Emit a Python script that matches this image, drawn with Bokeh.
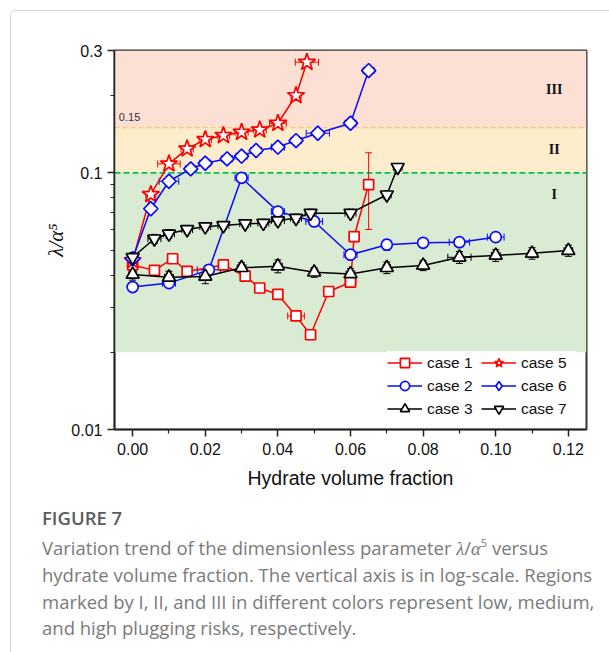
from bokeh.plotting import figure
from bokeh.models import (ColumnDataSource, Whisker, TeeHead, BoxAnnotation, Span,
                          Legend, LegendItem, FixedTicker, NumeralTickFormatter, Div, Label)
from bokeh.layouts import column
from bokeh.embed import file_html
from bokeh.resources import INLINE
import math

# ---- data: hydrate volume fraction (x) vs dimensionless lambda/alpha^5 (y) ----
case1_x = [0.0, 0.006, 0.011, 0.015, 0.025, 0.031, 0.035, 0.040, 0.045, 0.049, 0.054, 0.060, 0.061, 0.065]
case1_y = [0.0438, 0.0417, 0.0463, 0.0413, 0.0438, 0.0396, 0.0356, 0.0336, 0.0277, 0.0234, 0.0345, 0.0375, 0.0565, 0.0901]
case1_xerr = [0.001, 0.001, 0.001, 0.001, 0.0012, 0.0012, 0.001, 0.0012, 0.0023, 0.0012, 0.001, 0.0015, 0.0008, 0.0008]
case1_ylo = [0.0015, 0.0015, 0.0015, 0.0015, 0.0015, 0.0012, 0.0012, 0.0012, 0.0010, 0.0010, 0.0012, 0.0012, 0.0015, 0.0299]
case1_yhi = [0.0015, 0.0015, 0.0015, 0.0015, 0.0015, 0.0012, 0.0012, 0.0012, 0.0010, 0.0010, 0.0012, 0.0012, 0.0015, 0.0297]

case2_x = [0.0, 0.010, 0.021, 0.030, 0.040, 0.050, 0.060, 0.070, 0.080, 0.090, 0.100]
case2_y = [0.0359, 0.0372, 0.0419, 0.0957, 0.0707, 0.0647, 0.0480, 0.0525, 0.0534, 0.0537, 0.0562]
case2_xerr = [0.001, 0.0018, 0.0032, 0.0018, 0.0018, 0.0023, 0.0018, 0.001, 0.0012, 0.0028, 0.0023]
case2_yerr = [0.0012, 0.0012, 0.0015, 0.0030, 0.0025, 0.0020, 0.0015, 0.0025, 0.0018, 0.0018, 0.0018]

case3_x = [0.0, 0.010, 0.020, 0.030, 0.040, 0.050, 0.060, 0.070, 0.080, 0.090, 0.100, 0.110, 0.120]
case3_y = [0.0402, 0.0392, 0.0395, 0.0427, 0.0433, 0.0410, 0.0404, 0.0427, 0.0436, 0.0469, 0.0477, 0.0486, 0.0498]
case3_xerr = [0.001, 0.0012, 0.0015, 0.0012, 0.0012, 0.001, 0.0012, 0.001, 0.001, 0.0032, 0.0012, 0.001, 0.0012]
case3_yerr = [0.0020, 0.0022, 0.0025, 0.0020, 0.0025, 0.0018, 0.0020, 0.0022, 0.0020, 0.0025, 0.0025, 0.0025, 0.0025]

case5_x = [0.0, 0.005, 0.010, 0.015, 0.020, 0.025, 0.030, 0.035, 0.040, 0.045, 0.048]
case5_y = [0.0455, 0.0824, 0.1085, 0.1241, 0.1350, 0.1400, 0.1441, 0.1472, 0.1562, 0.2003, 0.2700]
case5_xerr = [0.001, 0.0014, 0.0031, 0.0017, 0.0017, 0.0017, 0.0018, 0.0018, 0.0023, 0.0014, 0.0032]
case5_yerr = [0.0015, 0.0025, 0.0030, 0.0035, 0.0035, 0.0035, 0.0035, 0.0040, 0.0040, 0.0050, 0.0070]

case6_x = [0.0, 0.005, 0.010, 0.016, 0.020, 0.026, 0.030, 0.034, 0.040, 0.045, 0.051, 0.060, 0.065]
case6_y = [0.0463, 0.0725, 0.0928, 0.1037, 0.1091, 0.1135, 0.1162, 0.1223, 0.1260, 0.1337, 0.1428, 0.1562, 0.2506]
case6_xerr = [0.001, 0.0012, 0.0027, 0.0015, 0.0015, 0.0015, 0.0015, 0.0015, 0.0018, 0.0014, 0.0032, 0.0015, 0.0015]
case6_yerr = [0.0015, 0.0022, 0.0028, 0.0030, 0.0030, 0.0030, 0.0030, 0.0032, 0.0032, 0.0035, 0.0035, 0.0040, 0.0060]

case7_x = [0.0, 0.006, 0.010, 0.015, 0.020, 0.025, 0.031, 0.036, 0.040, 0.045, 0.049, 0.060, 0.070, 0.073]
case7_y = [0.0469, 0.0554, 0.0579, 0.0602, 0.0618, 0.0624, 0.0634, 0.0637, 0.0652, 0.0666, 0.0697, 0.0697, 0.0822, 0.1052]
case7_xerr = [0.001, 0.0018, 0.0015, 0.0015, 0.0015, 0.0015, 0.0015, 0.0015, 0.0018, 0.0015, 0.0015, 0.0015, 0.0012, 0.0012]
case7_yerr = [0.0020, 0.0022, 0.0022, 0.0022, 0.0022, 0.0022, 0.0022, 0.0022, 0.0025, 0.0025, 0.0025, 0.0025, 0.0030, 0.0035]

# plugging-risk bands on the y axis: I (low), II (medium), III (high)
risk_bounds = [0.02, 0.1, 0.15, 0.3]
risk_labels = ["I", "II", "III"]

x_ticks = [0.00, 0.02, 0.04, 0.06, 0.08, 0.10, 0.12]
x_minor = [0.01, 0.03, 0.05, 0.07, 0.09, 0.11]
y_ticks = [0.01, 0.1, 0.3]
y_minor = [0.02, 0.03, 0.04, 0.05, 0.06, 0.07, 0.08, 0.09, 0.2]

RED, BLUE, BLACK = "#ff0000", "#0a0aff", "#000000"

# name, x, y, x error, lower/upper y error, colour, marker, size, marker angle, legend marker
series = [
    ("case 1", case1_x, case1_y, case1_xerr, case1_ylo, case1_yhi, RED, "square", 10, 0.0, None),
    ("case 2", case2_x, case2_y, case2_xerr, case2_yerr, case2_yerr, BLUE, "circle", 11, 0.0, None),
    ("case 3", case3_x, case3_y, case3_xerr, case3_yerr, case3_yerr, BLACK, "triangle", 13, 0.0, None),
    ("case 5", case5_x, case5_y, case5_xerr, case5_yerr, case5_yerr, RED, "star", 18, 0.0, None),
    ("case 6", case6_x, case6_y, case6_xerr, case6_yerr, case6_yerr, BLUE, "square", 10, math.pi / 4, "diamond"),
    ("case 7", case7_x, case7_y, case7_xerr, case7_yerr, case7_yerr, BLACK, "inverted_triangle", 13, 0.0, None),
]

p = figure(frame_width=472, frame_height=379,
           x_range=(-0.005, 0.125), y_range=(0.01, 0.3), y_axis_type="log",
           min_border_left=103, min_border_right=23, min_border_top=39, min_border_bottom=66,
           output_backend="svg", toolbar_location=None,
           background_fill_color="white", border_fill_color="white")
p.grid.visible = False
p.outline_line_color = "#333333"
p.outline_line_width = 2

# risk bands
band_colors = ["#d9ebd2", "#fdedcc", "#fde0d4"]
for lo, hi, c in zip(risk_bounds[:-1], risk_bounds[1:], band_colors):
    p.add_layout(BoxAnnotation(bottom=lo, top=hi, fill_color=c, fill_alpha=1.0,
                               line_color=None, level="underlay"))
p.add_layout(Span(location=risk_bounds[1], dimension="width", line_color="#00c44f",
                  line_width=1.6, line_dash="6 3", level="underlay"))
p.add_layout(Span(location=risk_bounds[2], dimension="width", line_color="#f5c24a",
                  line_width=1.2, line_dash="5 3", level="underlay"))
p.add_layout(Label(x=-0.0038, y=risk_bounds[2], y_offset=7, text="0.15",
                   text_font="Liberation Sans", text_font_size="11px",
                   text_color="#333333", text_baseline="bottom"))

label_y = [0.0824, 0.123, 0.211]
for txt, ly in zip(risk_labels, label_y):
    p.add_layout(Label(x=0.1161, y=ly, text=txt, text_font="Liberation Serif",
                       text_font_style="bold", text_font_size="14px", text_color="#111111",
                       text_align="center", text_baseline="middle"))

legend_items = {}
for name, xs, ys, xe, ylo, yhi, color, marker, size, ang, leg_marker in series:
    src = ColumnDataSource(dict(
        x=xs, y=ys,
        xl=[a - e for a, e in zip(xs, xe)], xu=[a + e for a, e in zip(xs, xe)],
        yl=[b - e for b, e in zip(ys, ylo)], yu=[b + e for b, e in zip(ys, yhi)],
    ))
    ln = p.line("x", "y", source=src, line_color=color, line_width=1.5)
    sc = p.scatter("x", "y", source=src, marker=marker, size=size, angle=ang,
                   line_color=color, fill_color="white", line_width=1.7)
    p.add_layout(Whisker(source=src, base="y", lower="xl", upper="xu", dimension="width",
                         line_color=color, line_width=1,
                         lower_head=TeeHead(size=7, line_color=color, line_width=1),
                         upper_head=TeeHead(size=7, line_color=color, line_width=1)))
    p.add_layout(Whisker(source=src, base="x", lower="yl", upper="yu", dimension="height",
                         line_color=color, line_width=1,
                         lower_head=TeeHead(size=7, line_color=color, line_width=1),
                         upper_head=TeeHead(size=7, line_color=color, line_width=1)))
    if leg_marker is not None:
        # legend glyphs are drawn unrotated, so the legend uses a hidden diamond renderer
        sc = p.scatter("x", "y", source=src, marker=leg_marker, size=size, line_color=color,
                       fill_color="white", line_width=1.7, visible=False)
    legend_items[name] = LegendItem(label=name, renderers=[ln, sc])

# the legend fills column by column
order = ["case 1", "case 2", "case 3", "case 5", "case 6", "case 7"]
legend = Legend(items=[legend_items[k] for k in order], location=(273, 9), ncols=2,
                background_fill_color="white", background_fill_alpha=1.0,
                border_line_color=None, label_text_font="Liberation Sans",
                label_text_font_size="15.5px", label_text_color="#111111",
                glyph_width=35, glyph_height=23, label_height=18, label_width=54,
                label_standoff=5, spacing=0, padding=2, margin=0,
                inactive_fill_alpha=0.0)
p.add_layout(legend)

for ax in (p.xaxis[0], p.yaxis[0]):
    ax.axis_line_color = "#222222"
    ax.axis_line_width = 1.5
    ax.major_tick_line_color = "#222222"
    ax.minor_tick_line_color = "#222222"
    ax.major_tick_line_width = 1.5
    ax.minor_tick_line_width = 1.2
    ax.major_tick_in = 0
    ax.major_tick_out = 7
    ax.minor_tick_in = 0
    ax.minor_tick_out = 4
    ax.major_label_text_font = "Liberation Sans"
    ax.major_label_text_font_size = "16px"
    ax.major_label_text_color = "#111111"
    ax.axis_label_text_color = "#111111"

p.xaxis.ticker = FixedTicker(ticks=x_ticks, minor_ticks=x_minor)
p.xaxis.formatter = NumeralTickFormatter(format="0.00")
p.xaxis.axis_label = "Hydrate volume fraction"
p.xaxis.axis_label_text_font = "Liberation Sans"
p.xaxis.axis_label_text_font_size = "19.5px"
p.xaxis.axis_label_text_font_style = "normal"
p.xaxis.axis_label_standoff = 9
p.xaxis.major_label_standoff = 6

p.yaxis.ticker = FixedTicker(ticks=y_ticks, minor_ticks=y_minor)
p.yaxis.formatter = NumeralTickFormatter(format="0.[00]")
p.yaxis.axis_label = "λ/α⁵"
p.yaxis.axis_label_text_font = "Liberation Serif"
p.yaxis.axis_label_text_font_size = "21px"
p.yaxis.axis_label_text_font_style = "italic"
p.yaxis.axis_label_standoff = 0
p.yaxis.major_label_standoff = 5

serif_i = "font-family:'Liberation Serif',serif;font-style:italic;"
caption_html = (
    "<div style=\"font-family:'Open Sans',sans-serif;color:#7a7a7a;padding-left:26px;\">"
    "<div style=\"font-size:18.5px;font-weight:600;color:#5c5c5c;line-height:24px;margin-top:6px;\">FIGURE 7</div>"
    "<div style=\"font-size:18.5px;line-height:26.3px;margin-top:5px;\">"
    "Variation trend of the dimensionless parameter "
    f"<span style=\"{serif_i}\">λ</span>/<span style=\"{serif_i}\">α</span>"
    "<sup style=\"font-size:11px;line-height:0;vertical-align:0;position:relative;top:-8px;\">5</sup> versus<br>"
    "hydrate volume fraction. The vertical axis is in log-scale. Regions<br>"
    "marked by I, II, and III in different colors represent low, medium,<br>"
    "and high plugging risks, respectively."
    "</div></div>"
)
cap = Div(text=caption_html, width=598, height=157)

layout = column(p, cap, margin=(10, 0, 0, 10),
                styles={"border-left": "1px solid #d4d4d4", "border-top": "1px solid #d4d4d4",
                        "border-top-left-radius": "6px"})

open("out.html", "w").write(file_html(layout, INLINE))
